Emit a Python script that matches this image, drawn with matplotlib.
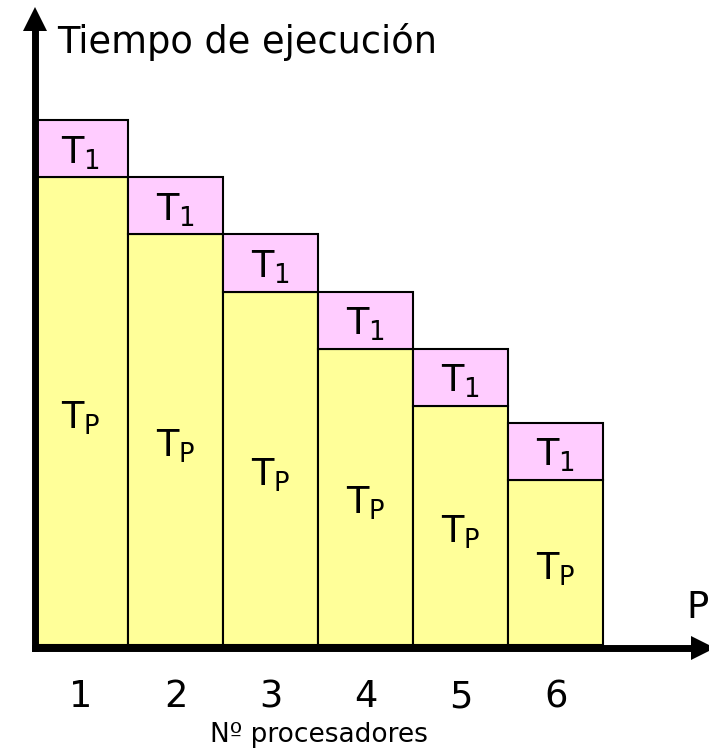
import numpy as np
import matplotlib
matplotlib.use('Agg')
import matplotlib.pyplot as plt

plt.rcParams['font.family'] = 'DejaVu Sans'
plt.rcParams['mathtext.default'] = 'regular'

# data (units: one T1 block = 1)
procs = [1, 2, 3, 4, 5, 6]
tp = [8.2, 7.2, 6.2, 5.2, 4.2, 2.9]
t1 = [1.0, 1.0, 1.0, 1.0, 1.0, 1.0]
tick_labels = ['1', '2', '3', '4', '5', '6']

yellow = '#FFFF99'
pink = '#FFCCFF'

fig = plt.figure(figsize=(7.09, 7.49), dpi=100)
ax = fig.add_axes([0.0487, 0.1342, 0.9429, 0.8405])

ax.bar(procs, tp, width=1.0, color=yellow, edgecolor='black', linewidth=1.5, zorder=1)
ax.bar(procs, t1, width=1.0, bottom=tp, color=pink, edgecolor='black', linewidth=1.5, zorder=1)

for x, h in zip(procs, tp):
    ax.text(x, h / 2 - 0.3, r'T$_P$', ha='center', va='baseline', fontsize=26.5)
    ax.text(x, h + 0.25, r'T$_1$', ha='center', va='baseline', fontsize=26.5)

ax.set_xlim(0.516, 7.55)
ax.set_ylim(-0.06, 10.98)

# axes with arrows
for s in ['top', 'right']:
    ax.spines[s].set_visible(False)
for s in ['left', 'bottom']:
    ax.spines[s].set_linewidth(5)
    ax.spines[s].set_zorder(3)
ax.plot(0, 1, '^k', ms=17, mew=0, transform=ax.transAxes, clip_on=False, zorder=4)
ax.plot(1, 0, '>k', ms=17, mew=0, transform=ax.transAxes, clip_on=False, zorder=4)

ax.set_xticks([])
ax.set_yticks([])

# tick labels under the bars
trans = ax.get_xaxis_transform()
for x, lab in zip(procs, tick_labels):
    ax.text(x, -0.093, lab, transform=trans, ha='center', va='baseline', fontsize=26.5, clip_on=False)

fig.text(57 / 709, 1 - 53 / 749, 'Tiempo de ejecución', ha='left', va='baseline', fontsize=26.5)
fig.text(686 / 709, 1 - 618 / 749, 'P', ha='left', va='baseline', fontsize=26.5)
fig.text(319 / 709, 1 - 742 / 749, 'Nº procesadores', ha='center', va='baseline', fontsize=19)

fig.savefig('out.png', dpi=100)
